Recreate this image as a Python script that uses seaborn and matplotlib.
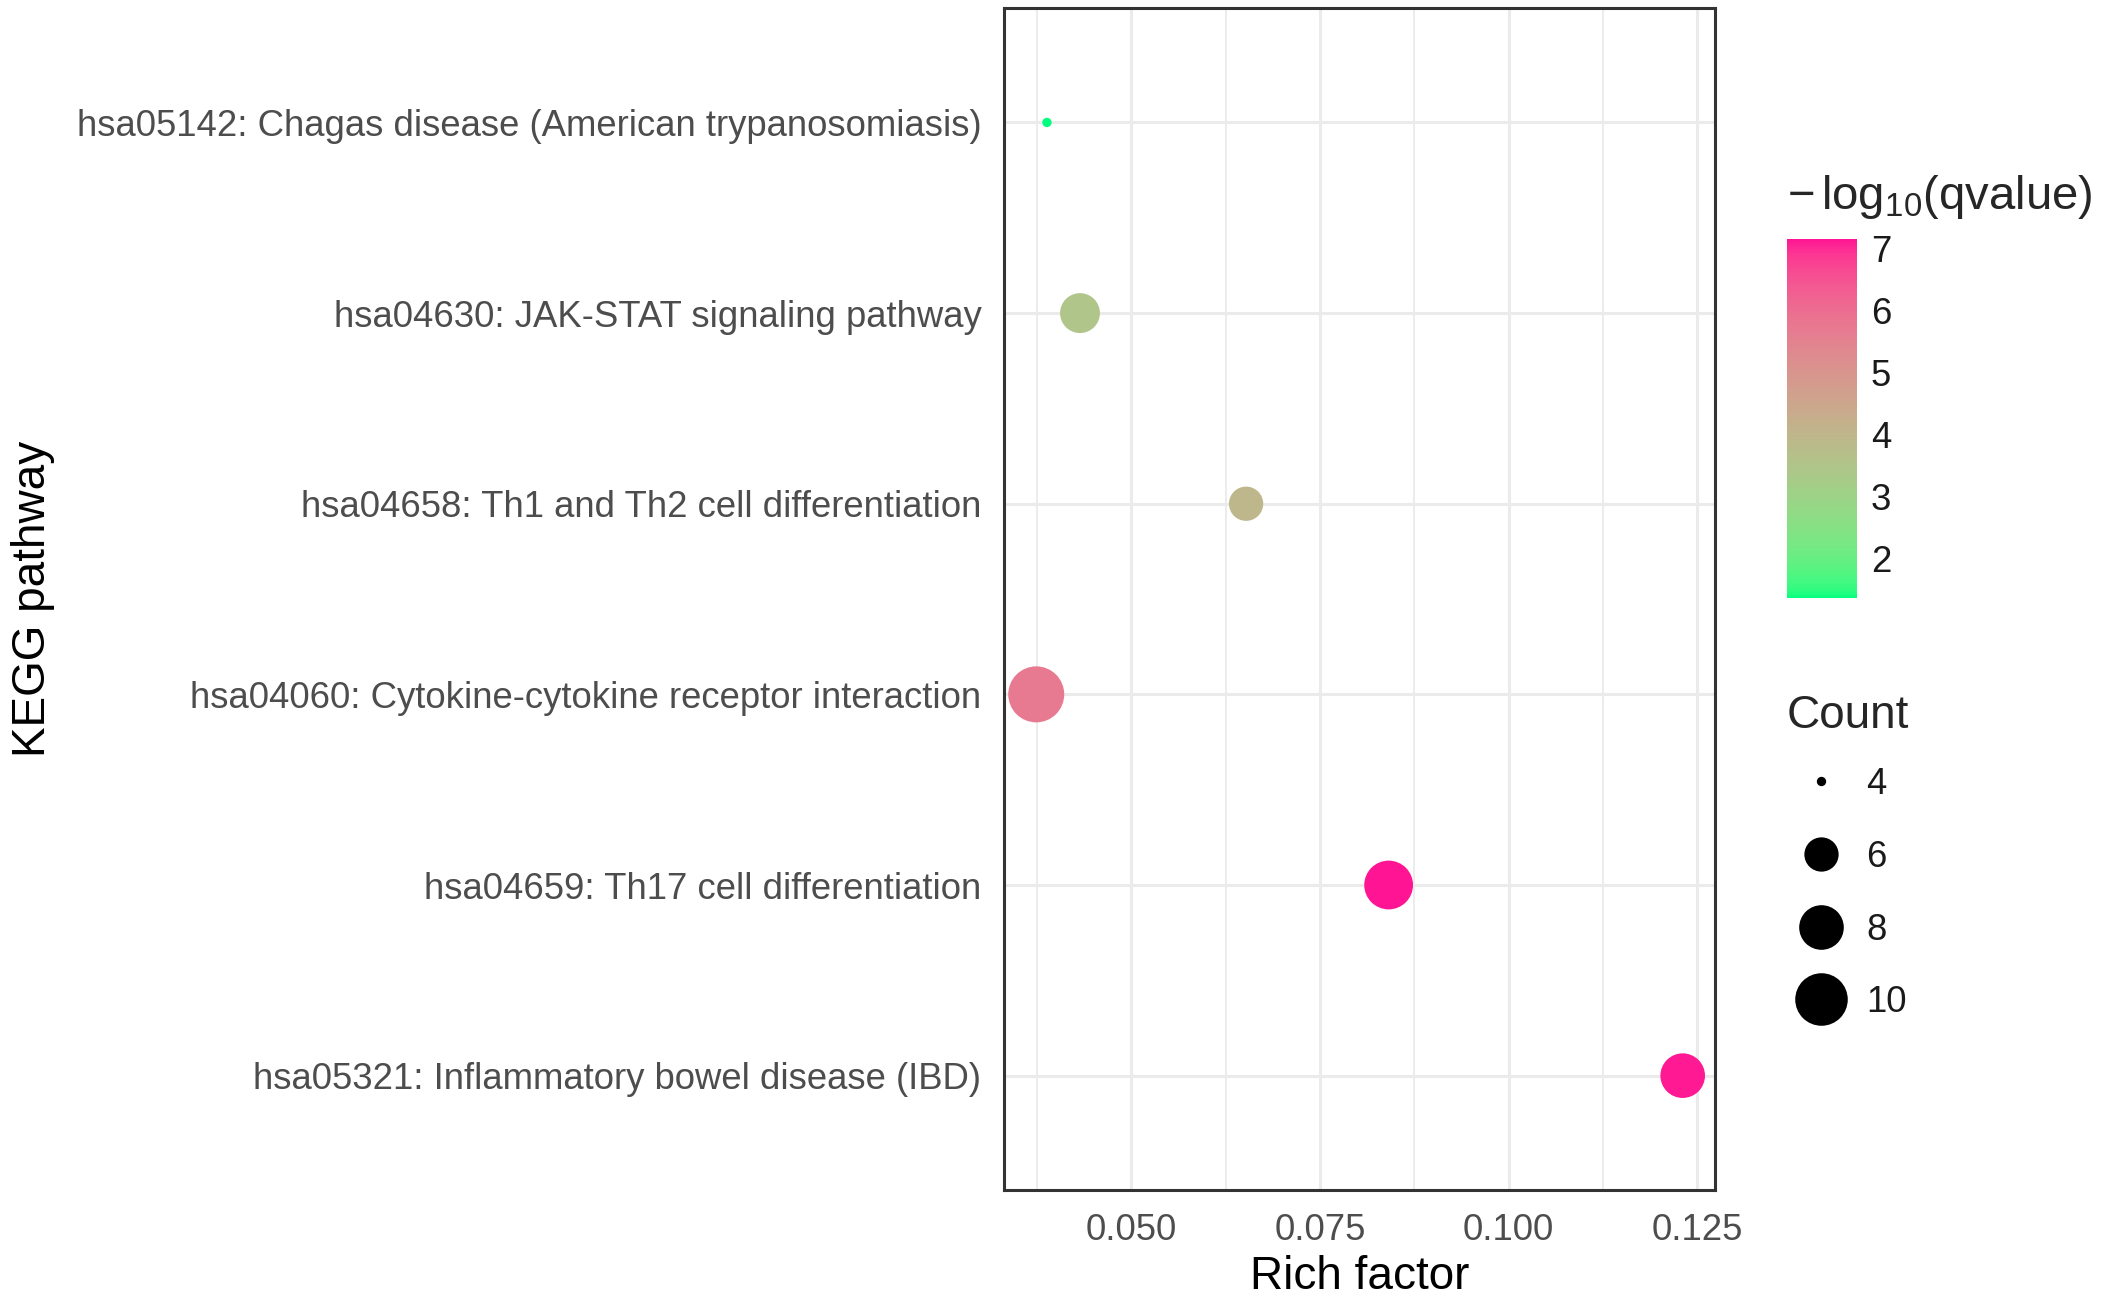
import numpy as np
import pandas as pd
import seaborn as sns
import matplotlib
matplotlib.use('Agg')
import matplotlib.pyplot as plt
from matplotlib.colors import ListedColormap, Normalize
from matplotlib.cm import ScalarMappable
from matplotlib.lines import Line2D

# KEGG enrichment results (top to bottom as shown)
pathways = [
    'hsa05142: Chagas disease (American trypanosomiasis)',
    'hsa04630: JAK-STAT signaling pathway',
    'hsa04658: Th1 and Th2 cell differentiation',
    'hsa04060: Cytokine-cytokine receptor interaction',
    'hsa04659: Th17 cell differentiation',
    'hsa05321: Inflammatory bowel disease (IBD)',
]
rich_factor = [0.03883, 0.04321, 0.06522, 0.03741, 0.08411, 0.12308]
gene_count = [4, 7, 6, 11, 9, 8]
neg_log_q = [1.37, 3.50, 3.95, 5.70, 7.16, 7.12]

xticks = [0.050, 0.075, 0.100, 0.125]
cbar_ticks = [2, 3, 4, 5, 6, 7]
count_legend = [4, 6, 8, 10]

df = pd.DataFrame({'Pathway': pathways, 'RichFactor': rich_factor,
                   'Count': gene_count, 'q': neg_log_q})

sns.set_style('white')
plt.rcParams['font.family'] = ['Liberation Sans', 'DejaVu Sans']
plt.rcParams['mathtext.fontset'] = 'custom'
plt.rcParams['mathtext.rm'] = 'Liberation Sans'
plt.rcParams['mathtext.it'] = 'Liberation Sans'


# springgreen -> deeppink gradient interpolated in Lab (like ggplot)
WHITE = np.array([0.95047, 1.0, 1.08883])
M = np.array([[0.4124, 0.3576, 0.1805],
              [0.2126, 0.7152, 0.0722],
              [0.0193, 0.1192, 0.9505]])


def to_lab(rgb):
    rgb = np.asarray(rgb, float)
    lin = np.where(rgb <= 0.04045, rgb / 12.92, ((rgb + 0.055) / 1.055) ** 2.4)
    xyz = lin @ M.T / WHITE
    f = np.where(xyz > (6 / 29) ** 3, np.cbrt(xyz), xyz / (3 * (6 / 29) ** 2) + 4 / 29)
    return np.stack([116 * f[..., 1] - 16, 500 * (f[..., 0] - f[..., 1]),
                     200 * (f[..., 1] - f[..., 2])], -1)


def to_rgb(lab):
    fy = (lab[..., 0] + 16) / 116
    f = np.stack([fy + lab[..., 1] / 500, fy, fy - lab[..., 2] / 200], -1)
    xyz = np.where(f > 6 / 29, f ** 3, 3 * (6 / 29) ** 2 * (f - 4 / 29)) * WHITE
    lin = np.clip(xyz @ np.linalg.inv(M).T, 0, None)
    rgb = np.where(lin <= 0.0031308, 12.92 * lin, 1.055 * lin ** (1 / 2.4) - 0.055)
    return np.clip(rgb, 0, 1)


low = to_lab(matplotlib.colors.to_rgb('springgreen'))
high = to_lab(matplotlib.colors.to_rgb('deeppink'))
t = np.linspace(0, 1, 256)[:, None]
cmap = ListedColormap(to_rgb(low + (high - low) * t))

# ggplot-style area scaling: diameter 1..6 mm on sqrt of rescaled count
cmin, cmax = min(gene_count), max(gene_count)


def marker_area(c):
    d_px = 56 * (1 + 5 * np.sqrt((c - cmin) / (cmax - cmin))) / 6
    return (d_px * 0.72) ** 2


sizes = {c: marker_area(c) for c in sorted(set(gene_count))}
qmin, qmax = min(neg_log_q), max(neg_log_q)

fig = plt.figure(figsize=(21.02, 13.02), dpi=100)
ax = fig.add_axes([0.4776, 0.0860, 0.3383, 0.9078])

sns.scatterplot(data=df, x='RichFactor', y='Pathway', hue='q', size='Count',
                palette=cmap, hue_norm=(qmin, qmax), sizes=sizes,
                linewidth=0, legend=False, ax=ax, zorder=3)

lo, hi = min(rich_factor), max(rich_factor)
ax.set_xlim(lo - 0.05 * (hi - lo), hi + 0.05 * (hi - lo))
ax.set_ylim(len(pathways) - 0.4, -0.6)
ax.set_xticks(xticks)
ax.set_xticklabels([f'{v:.3f}' for v in xticks])
ax.set_xticks([(a + b) / 2 for a, b in zip([xticks[0] - 0.025] + xticks, xticks)], minor=True)
ax.set_axisbelow(True)
ax.grid(True, which='major', color='#EBEBEB', linewidth=2.2)
ax.grid(True, which='minor', axis='x', color='#EBEBEB', linewidth=1.3)
for s in ax.spines.values():
    s.set_color('#333333')
    s.set_linewidth(2.2)
ax.tick_params(axis='both', which='major', labelsize=26.3, labelcolor='#4D4D4D',
               length=8.2, width=2.2, color='#333333', pad=8)
ax.tick_params(axis='x', which='minor', length=0)

ax.set_xlabel('Rich factor', fontsize=33, color='black')
ax.set_ylabel('KEGG pathway', fontsize=33, color='black')
ax.xaxis.set_label_coords(0.5, -0.0736)
ax.xaxis.label.set_va('center')
ax.yaxis.set_label_coords(-1.365, 0.5)
ax.yaxis.label.set_va('center')

# colour bar
cax = fig.add_axes([0.8502, 0.5407, 0.0333, 0.2757])
cb = fig.colorbar(ScalarMappable(norm=Normalize(qmin, qmax), cmap=cmap), cax=cax)
cb.outline.set_visible(False)
cb.set_ticks(cbar_ticks)
cax.yaxis.set_ticks_position('both')
cax.tick_params(direction='in', color='white', length=10, width=1.2,
                labelsize=26.3, labelcolor='#1A1A1A', pad=10,
                left=True, right=True, labelleft=False, labelright=True)
fig.text(1787 / 2102, 1 - 209 / 1302, r'$-\,\mathrm{log}_{10}\mathrm{(qvalue)}$',
         fontsize=34, va='baseline', ha='left')

# size legend
fig.text(1787 / 2102, 1 - 728 / 1302, 'Count', fontsize=33, va='baseline', ha='left')
handles = [Line2D([], [], linestyle='none', marker='o', color='black',
                  markeredgewidth=0, markersize=np.sqrt(marker_area(c)))
           for c in count_legend]
leg = fig.legend(handles, [str(c) for c in count_legend],
                 loc='upper left', bbox_to_anchor=(1766 / 2102, 1 - 749 / 1302),
                 frameon=False, fontsize=26.3,
                 handlelength=2, handletextpad=0.25, borderpad=0,
                 labelspacing=1.03)
for txt in leg.get_texts():
    txt.set_color('#1A1A1A')

fig.savefig('out.png', dpi=100)
